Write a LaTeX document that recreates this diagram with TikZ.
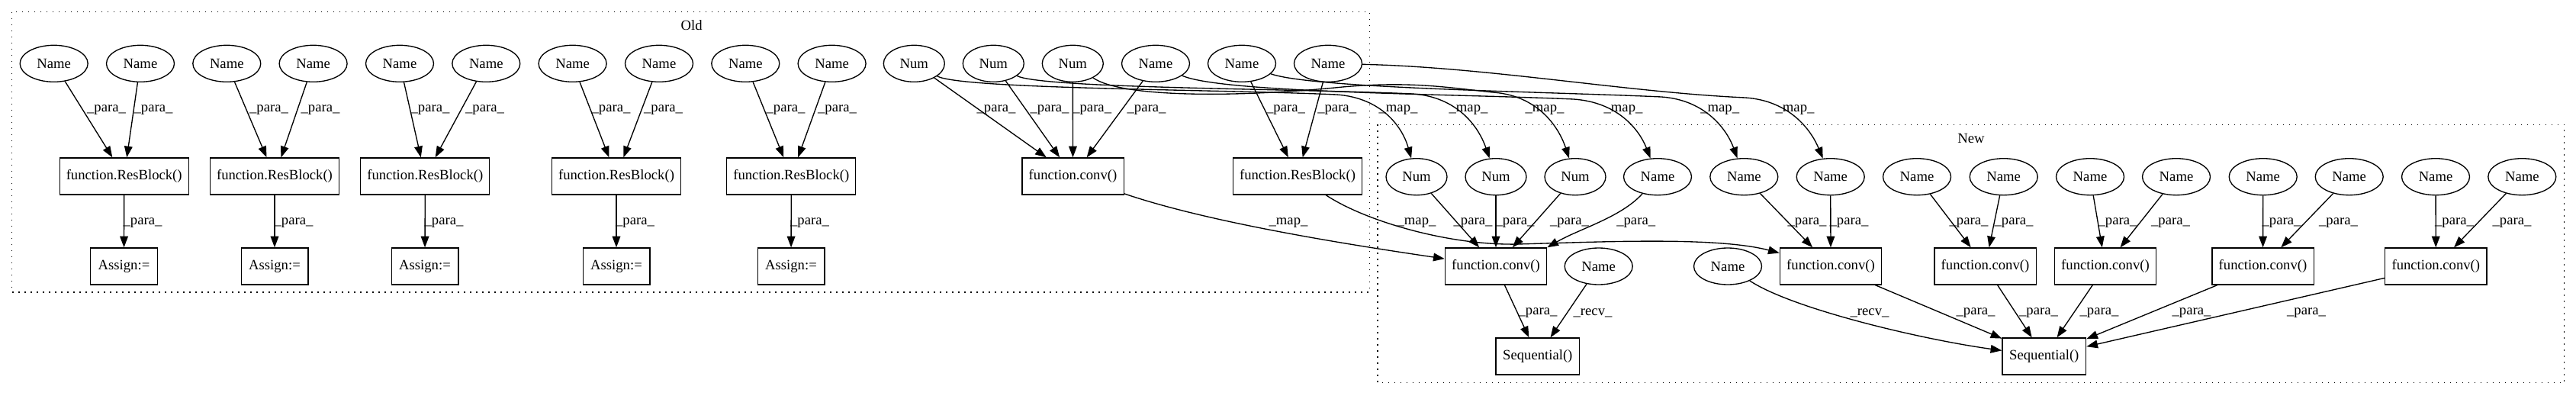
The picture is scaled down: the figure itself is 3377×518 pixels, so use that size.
\documentclass[tikz,border=0pt]{standalone}
\usepackage{fontspec}
\setmainfont{Liberation Serif}
\usetikzlibrary{arrows.meta,shapes.geometric}
\begin{document}
\begin{tikzpicture}[x=0.75pt, y=-0.75pt,
  every node/.style={font=\fontsize{14}{16}\selectfont},
  nm/.style={draw, ellipse, line width=1pt, minimum width=66.75pt, minimum height=36pt, inner sep=0pt},
  num/.style={nm, minimum width=60pt},
  bx/.style={draw, rectangle, line width=1pt, minimum height=36pt, inner sep=0pt},
  rbx/.style={bx, minimum width=126.75pt},
  cbx/.style={bx, minimum width=100pt},
  abx/.style={bx, minimum width=65.75pt},
  sbx/.style={bx, minimum width=82.3pt},
  e/.style={line width=1pt, -{Triangle[length=11pt,width=8pt]}},
  lbl/.style={inner sep=0pt},
  cl/.style={line width=1pt, dash pattern=on 1pt off 5pt}]
\useasboundingbox (0,0) rectangle (3377,518);
% clusters
\draw[cl] (15.7,15.7) rectangle (1795.7,383);
\node[lbl] (oldlbl) at (906.7,33.3) {Old};
\draw[cl] (1806,163.3) rectangle (3361.7,501.7);
\node[lbl] (newlbl) at (2584,181) {New};
% Old top row
\node[nm] (o1) at (70.7,83.3) {Name};
\node[nm] (o2) at (184,83.3) {Name};
\node[nm] (o3) at (297.3,83.3) {Name};
\node[nm] (o4) at (410.6,83.3) {Name};
\node[nm] (o5) at (524,83.3) {Name};
\node[nm] (o6) at (637.3,83.3) {Name};
\node[nm] (o7) at (750.6,83.3) {Name};
\node[nm] (o8) at (864,83.3) {Name};
\node[nm] (o9) at (977.3,83.3) {Name};
\node[nm] (o10) at (1090.6,83.3) {Name};
\node[num] (on1) at (1198.3,83.3) {Num};
\node[num] (on2) at (1302.3,83.3) {Num};
\node[num] (on3) at (1406.3,83.3) {Num};
\node[nm] (o11) at (1515,83.3) {Name};
\node[nm] (o12) at (1628,83.3) {Name};
\node[nm] (o13) at (1741,83.3) {Name};
% Old row 2
\node[rbx] (rb1) at (162.7,231) {function.ResBlock()};
\node[rbx] (rb2) at (360,231) {function.ResBlock()};
\node[rbx] (rb3) at (557.3,231) {function.ResBlock()};
\node[rbx] (rb4) at (808,231) {function.ResBlock()};
\node[rbx] (rb5) at (1037.3,231) {function.ResBlock()};
\node[cbx] (oconv) at (1406.5,231) {function.conv()};
\node[rbx] (rb6) at (1701,231) {function.ResBlock()};
% Old row 3
\node[abx] (a1) at (162.5,349) {Assign:=};
\node[abx] (a2) at (360,349) {Assign:=};
\node[abx] (a3) at (557,349) {Assign:=};
\node[abx] (a4) at (808,349) {Assign:=};
\node[abx] (a5) at (1037,349) {Assign:=};
% New top row
\node[num] (nn1) at (1857,231.7) {Num};
\node[num] (nn2) at (1961,231.7) {Num};
\node[num] (nn3) at (2065,231.7) {Num};
\node[nm] (m1) at (2173,231.7) {Name};
\node[nm] (m2) at (2286.3,231.7) {Name};
\node[nm] (m3) at (2399.7,231.7) {Name};
\node[nm] (m4) at (2513,231.7) {Name};
\node[nm] (m5) at (2626.7,231.7) {Name};
\node[nm] (m6) at (2740,231.7) {Name};
\node[nm] (m7) at (2853,231.7) {Name};
\node[nm] (m8) at (2966.7,231.7) {Name};
\node[nm] (m9) at (3079.7,231.7) {Name};
\node[nm] (m10) at (3193,231.7) {Name};
\node[nm] (m11) at (3306.3,231.7) {Name};
% New row 2
\node[cbx] (c1) at (1961,349) {function.conv()};
\node[nm] (r1) at (2095.7,349) {Name};
\node[nm] (r2) at (2265,349) {Name};
\node[cbx] (c2) at (2400,349) {function.conv()};
\node[cbx] (c3) at (2602.5,349) {function.conv()};
\node[cbx] (c4) at (2760,349) {function.conv()};
\node[cbx] (c5) at (2966.5,349) {function.conv()};
\node[cbx] (c6) at (3193.3,349) {function.conv()};
% New row 3
\node[sbx] (s1) at (2015.8,467) {Sequential()};
\node[sbx] (s2) at (2679.8,467) {Sequential()};
% Old edges
\draw[e] (o1) -- (rb1); \draw[e] (o2) -- (rb1); \draw[e] (rb1) -- (a1);
\draw[e] (o3) -- (rb2); \draw[e] (o4) -- (rb2); \draw[e] (rb2) -- (a2);
\draw[e] (o5) -- (rb3); \draw[e] (o6) -- (rb3); \draw[e] (rb3) -- (a3);
\draw[e] (o7) -- (rb4); \draw[e] (o8) -- (rb4); \draw[e] (rb4) -- (a4);
\draw[e] (o9) -- (rb5); \draw[e] (o10) -- (rb5); \draw[e] (rb5) -- (a5);
\draw[e] (on1) -- (oconv); \draw[e] (on2) -- (oconv); \draw[e] (on3) -- (oconv); \draw[e] (o11) -- (oconv);
\draw[e] (o12) -- (rb6); \draw[e] (o13) -- (rb6);
% map edges
\draw[e] (on1) .. controls (1260,117) and (1597,117) .. (1752,124) .. controls (1810,128) and (1838,165) .. (nn1);
\draw[e] (on2) .. controls (1365,116) and (1697,116) .. (1852,123) .. controls (1910,127) and (1938,165) .. (nn2);
\draw[e] (on3) .. controls (1470,128) and (1620,128) .. (1760,114) .. controls (1850,106) and (1900,115) .. (1957,121) .. controls (2015,125) and (2043,165) .. (nn3);
\draw[e] (o11) .. controls (1600,122) and (1908,123) .. (2063,130) .. controls (2121,134) and (2149,170) .. (m1);
\draw[e] (o12) .. controls (1720,116) and (2023,120) .. (2178,127) .. controls (2236,131) and (2264,170) .. (m2);
\draw[e] (o13) .. controls (1950,88) and (2133,121) .. (2288,128) .. controls (2346,132) and (2374,170) .. (m3);
\draw[e] (oconv) .. controls (1580,290) and (1750,318) .. (c1);
\draw[e] (rb6) .. controls (1790,290) and (1900,322) .. (1990,320) .. controls (2100,317) and (2250,310) .. (c2);
% New edges
\draw[e] (nn1) -- (c1); \draw[e] (nn2) -- (c1); \draw[e] (nn3) -- (c1);
\draw[e] (m1) .. controls (2125,285) and (2070,300) .. (c1.north east);
\draw[e] (m2) -- (c2); \draw[e] (m3) -- (c2);
\draw[e] (m4) -- (c3); \draw[e] (m5) -- (c3);
\draw[e] (m6) -- (c4); \draw[e] (m7) -- (c4);
\draw[e] (m8) -- (c5); \draw[e] (m9) -- (c5);
\draw[e] (m10) -- (c6); \draw[e] (m11) -- (c6);
\draw[e] (c1) -- (s1); \draw[e] (r1) -- (s1);
\draw[e] (r2) .. controls (2350,405) and (2520,445) .. (s2);
\draw[e] (c2) -- (s2); \draw[e] (c3) -- (s2); \draw[e] (c4) -- (s2); \draw[e] (c5) -- (s2); \draw[e] (c6) -- (s2);
% labels
\foreach \x in {139.5,201,352.5,420,564,635.5,801,869.5,1030,1097.5,1306,1376,1431.7,1503,1685.5,1752.7}
  \node[lbl] at (\x,144) {\_para\_};
\foreach \x in {187,385,582,832.5,1061.5}
  \node[lbl] at (\x,292) {\_para\_};
\foreach \x in {1833,1925,2025,2128,2254.7,2353}
  \node[lbl] at (\x,144) {\_map\_};
\foreach \x in {1689,1857}
  \node[lbl] at (\x,292) {\_map\_};
\foreach \x in {1931,1986,2057.5,2144.7,2369,2424,2581,2640,2776,2845.5,2991,3065.5,3217.5,3293}
  \node[lbl] at (\x,291.7) {\_para\_};
\foreach \x in {2016,2590,2672.5,2752,2873,3023.5}
  \node[lbl] at (\x,410) {\_para\_};
\foreach \x in {2088,2451}
  \node[lbl] at (\x,410) {\_recv\_};
\end{tikzpicture}
\end{document}
